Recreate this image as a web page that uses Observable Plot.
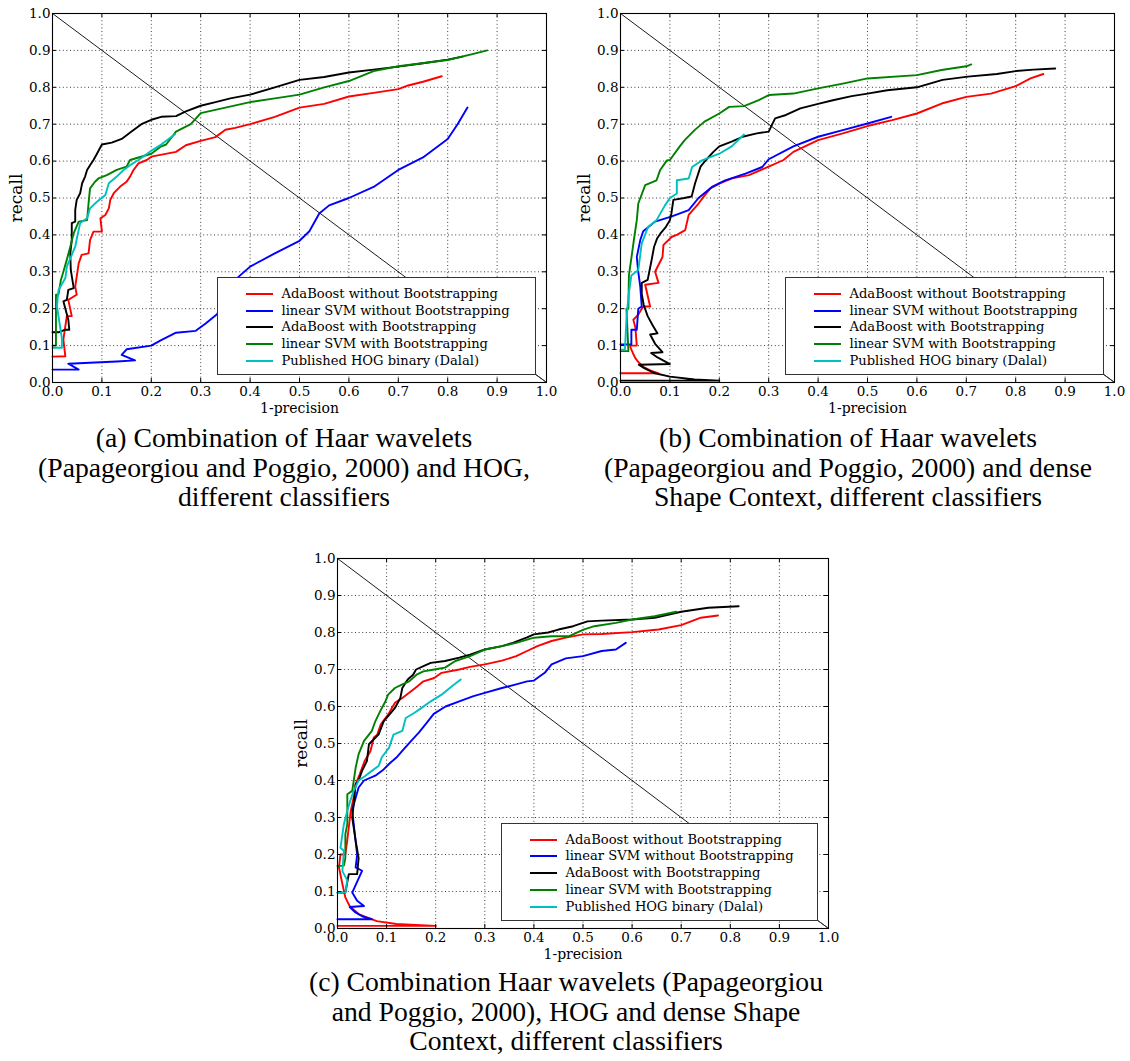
<!DOCTYPE html>
<html><head><meta charset="utf-8">
<script src="https://cdn.jsdelivr.net/npm/d3@7"></script>
<script src="https://cdn.jsdelivr.net/npm/@observablehq/plot@0.6"></script>
<style>
body{margin:0;background:#fff;}
#page{position:relative;width:1130px;height:1061px;overflow:hidden;background:#fff;}
.panel{position:absolute;}
.panel svg [aria-label="x-axis label"]{font-size:14px;}
.panel svg [aria-label="y-axis label"]{font-size:17px;}
.legend{position:absolute;background:#fff;border:1px solid #333;box-sizing:border-box;font-family:"DejaVu Serif",serif;font-size:13.1px;color:#000;}
.legend .row{position:absolute;left:0;height:16px;line-height:16px;white-space:nowrap;}
.legend .sw{position:absolute;left:28px;top:7px;width:27px;height:2px;}
.legend .tx{position:absolute;left:63px;top:0;}
.caption{position:absolute;white-space:nowrap;font-family:"Liberation Serif",serif;color:#000;transform:translate(-50%,-50%);}
</style></head><body><div id="page"></div>
<script>
// ---------- shared labels / styles ----------
const seriesNames = ["AdaBoost without Bootstrapping","linear SVM without Bootstrapping","AdaBoost with Bootstrapping","linear SVM with Bootstrapping","Published HOG binary (Dalal)"];
const seriesColors = ["#ff0000","#0000ff","#000000","#008000","#00bfbf"];
const tickValues = [0,0.1,0.2,0.3,0.4,0.5,0.6,0.7,0.8,0.9,1.0];
const diagX = [0,1];
const diagY = [1,0];
const xLabel = "1-precision";
const yLabel = "recall";

// ---------- panel (a): Haar + HOG ----------
const aAdaNoBoot = [[0,0.07],[0.026,0.071],[0.022,0.116],[0.029,0.18],[0.039,0.18],[0.032,0.224],[0.043,0.233],[0.049,0.238],[0.046,0.26],[0.053,0.323],[0.059,0.346],[0.073,0.35],[0.076,0.386],[0.083,0.409],[0.1,0.409],[0.097,0.445],[0.107,0.454],[0.114,0.472],[0.117,0.495],[0.124,0.513],[0.137,0.531],[0.15,0.544],[0.157,0.558],[0.164,0.576],[0.174,0.594],[0.191,0.603],[0.2,0.612],[0.25,0.625],[0.27,0.643],[0.3,0.655],[0.33,0.665],[0.35,0.685],[0.37,0.69],[0.4,0.70],[0.45,0.72],[0.5,0.745],[0.55,0.755],[0.6,0.775],[0.65,0.785],[0.7,0.795],[0.72,0.805],[0.75,0.815],[0.788,0.83]];
const aSvmNoBoot = [[0,0.035],[0.053,0.035],[0.032,0.051],[0.13,0.057],[0.167,0.06],[0.14,0.075],[0.15,0.09],[0.2,0.10],[0.22,0.115],[0.25,0.135],[0.29,0.14],[0.31,0.16],[0.333,0.185],[0.377,0.287],[0.4,0.314],[0.45,0.35],[0.5,0.384],[0.52,0.41],[0.54,0.458],[0.56,0.48],[0.6,0.50],[0.65,0.53],[0.7,0.576],[0.75,0.61],[0.8,0.66],[0.82,0.70],[0.84,0.745]];
const aAdaBoot = [[0,0.136],[0.012,0.136],[0.026,0.143],[0.034,0.143],[0.032,0.17],[0.022,0.22],[0.029,0.224],[0.032,0.251],[0.043,0.256],[0.037,0.305],[0.036,0.35],[0.039,0.386],[0.039,0.432],[0.046,0.436],[0.046,0.468],[0.049,0.495],[0.056,0.513],[0.06,0.54],[0.066,0.558],[0.07,0.576],[0.076,0.589],[0.083,0.603],[0.09,0.62],[0.1,0.645],[0.12,0.65],[0.14,0.66],[0.16,0.68],[0.18,0.70],[0.2,0.712],[0.22,0.72],[0.25,0.722],[0.27,0.735],[0.3,0.75],[0.33,0.76],[0.36,0.77],[0.4,0.78],[0.45,0.80],[0.5,0.82],[0.55,0.828],[0.6,0.84],[0.65,0.848],[0.7,0.856],[0.75,0.865],[0.8,0.875],[0.83,0.883]];
const aSvmBoot = [[0,0.1],[0.007,0.1],[0.007,0.238],[0.012,0.238],[0.017,0.278],[0.022,0.3],[0.029,0.333],[0.036,0.368],[0.043,0.405],[0.053,0.436],[0.07,0.44],[0.073,0.486],[0.076,0.526],[0.086,0.544],[0.093,0.553],[0.11,0.562],[0.13,0.576],[0.15,0.585],[0.157,0.603],[0.2,0.62],[0.22,0.64],[0.23,0.645],[0.25,0.68],[0.28,0.70],[0.3,0.73],[0.35,0.745],[0.4,0.76],[0.45,0.77],[0.5,0.78],[0.55,0.80],[0.6,0.817],[0.65,0.844],[0.7,0.857],[0.8,0.874],[0.85,0.89],[0.88,0.90]];
const aDalal = [[0,0.094],[0.019,0.094],[0.019,0.12],[0.009,0.206],[0.012,0.25],[0.026,0.283],[0.029,0.314],[0.039,0.346],[0.046,0.368],[0.05,0.395],[0.056,0.432],[0.07,0.445],[0.076,0.472],[0.09,0.49],[0.107,0.508],[0.114,0.54],[0.13,0.558],[0.144,0.576],[0.157,0.589],[0.174,0.603],[0.2,0.628],[0.22,0.645],[0.248,0.673]];

// ---------- panel (b): Haar + dense Shape Context ----------
const bAdaNoBoot = [[0,0.025],[0.077,0.025],[0.06,0.033],[0.047,0.042],[0.037,0.054],[0.03,0.066],[0.025,0.08],[0.02,0.095],[0.02,0.1],[0.033,0.1],[0.03,0.15],[0.026,0.17],[0.036,0.184],[0.046,0.206],[0.06,0.206],[0.05,0.265],[0.077,0.27],[0.07,0.3],[0.085,0.34],[0.087,0.373],[0.104,0.395],[0.114,0.4],[0.131,0.413],[0.138,0.454],[0.158,0.485],[0.168,0.503],[0.182,0.526],[0.202,0.54],[0.226,0.553],[0.26,0.562],[0.3,0.585],[0.33,0.603],[0.35,0.625],[0.4,0.657],[0.45,0.675],[0.5,0.695],[0.55,0.711],[0.6,0.729],[0.65,0.756],[0.7,0.774],[0.75,0.783],[0.8,0.803],[0.83,0.824],[0.856,0.836]];
const bSvmNoBoot = [[0,0.103],[0.022,0.103],[0.022,0.143],[0.033,0.143],[0.036,0.2],[0.043,0.206],[0.04,0.26],[0.036,0.3],[0.033,0.34],[0.04,0.386],[0.046,0.41],[0.07,0.436],[0.104,0.45],[0.138,0.467],[0.158,0.5],[0.185,0.53],[0.212,0.548],[0.253,0.566],[0.287,0.584],[0.3,0.605],[0.35,0.64],[0.4,0.666],[0.45,0.684],[0.5,0.702],[0.548,0.72]];
const bAdaBoot = [[0,0.005],[0.2,0.005],[0.15,0.008],[0.1,0.016],[0.07,0.025],[0.048,0.039],[0.037,0.048],[0.1,0.05],[0.075,0.068],[0.062,0.08],[0.085,0.082],[0.07,0.105],[0.06,0.13],[0.075,0.133],[0.065,0.155],[0.055,0.18],[0.047,0.21],[0.043,0.24],[0.043,0.27],[0.055,0.278],[0.063,0.332],[0.068,0.368],[0.074,0.39],[0.081,0.404],[0.092,0.422],[0.1,0.44],[0.103,0.458],[0.107,0.495],[0.129,0.5],[0.144,0.504],[0.151,0.54],[0.162,0.585],[0.173,0.603],[0.188,0.625],[0.2,0.64],[0.225,0.653],[0.247,0.666],[0.276,0.675],[0.3,0.68],[0.313,0.716],[0.335,0.725],[0.364,0.743],[0.4,0.755],[0.43,0.765],[0.468,0.776],[0.5,0.783],[0.54,0.792],[0.6,0.80],[0.652,0.82],[0.703,0.829],[0.762,0.836],[0.8,0.844],[0.836,0.848],[0.88,0.851]];
const bSvmBoot = [[0,0.085],[0.016,0.085],[0.012,0.2],[0.016,0.2],[0.017,0.29],[0.022,0.337],[0.028,0.395],[0.033,0.44],[0.036,0.485],[0.05,0.535],[0.073,0.548],[0.08,0.575],[0.094,0.602],[0.1,0.603],[0.12,0.64],[0.13,0.657],[0.15,0.684],[0.17,0.707],[0.2,0.729],[0.22,0.747],[0.25,0.749],[0.28,0.765],[0.3,0.779],[0.35,0.783],[0.4,0.797],[0.45,0.81],[0.5,0.824],[0.6,0.833],[0.65,0.847],[0.7,0.857],[0.71,0.862]];
const bDalal = [[0,0.089],[0.009,0.089],[0.012,0.17],[0.016,0.233],[0.022,0.29],[0.036,0.305],[0.043,0.377],[0.056,0.422],[0.073,0.44],[0.09,0.48],[0.1,0.5],[0.114,0.512],[0.114,0.548],[0.138,0.553],[0.145,0.584],[0.165,0.602],[0.2,0.62],[0.225,0.64],[0.25,0.672]];

// ---------- panel (c): Haar + HOG + dense Shape Context ----------
const cAdaNoBoot = [[0,0.007],[0.2,0.007],[0.12,0.012],[0.08,0.02],[0.043,0.039],[0.025,0.06],[0.016,0.084],[0.01,0.12],[0.003,0.165],[0.006,0.2],[0.016,0.2],[0.02,0.24],[0.023,0.273],[0.027,0.318],[0.033,0.354],[0.037,0.39],[0.045,0.416],[0.055,0.452],[0.067,0.479],[0.074,0.516],[0.081,0.524],[0.088,0.551],[0.103,0.578],[0.117,0.61],[0.132,0.623],[0.146,0.637],[0.161,0.653],[0.175,0.668],[0.197,0.677],[0.212,0.691],[0.248,0.70],[0.27,0.707],[0.3,0.714],[0.335,0.724],[0.364,0.736],[0.386,0.75],[0.407,0.763],[0.436,0.777],[0.465,0.786],[0.5,0.795],[0.538,0.796],[0.6,0.801],[0.654,0.808],[0.7,0.82],[0.74,0.84],[0.775,0.846]];
const cSvmNoBoot = [[0,0.025],[0.07,0.025],[0.05,0.033],[0.035,0.045],[0.025,0.058],[0.054,0.061],[0.04,0.075],[0.03,0.097],[0.05,0.156],[0.037,0.165],[0.04,0.2],[0.033,0.282],[0.03,0.32],[0.043,0.381],[0.054,0.4],[0.077,0.413],[0.094,0.43],[0.106,0.446],[0.12,0.462],[0.135,0.485],[0.152,0.51],[0.166,0.53],[0.18,0.553],[0.196,0.58],[0.22,0.6],[0.248,0.614],[0.277,0.628],[0.3,0.637],[0.335,0.65],[0.364,0.66],[0.386,0.668],[0.4,0.67],[0.422,0.691],[0.436,0.714],[0.465,0.73],[0.5,0.736],[0.538,0.75],[0.567,0.754],[0.587,0.772]];
const cAdaBoot = [[0,0.097],[0.016,0.097],[0.023,0.147],[0.04,0.147],[0.043,0.19],[0.037,0.237],[0.03,0.3],[0.033,0.336],[0.037,0.39],[0.043,0.4],[0.05,0.426],[0.06,0.453],[0.064,0.498],[0.084,0.525],[0.094,0.56],[0.107,0.58],[0.117,0.596],[0.128,0.623],[0.132,0.65],[0.143,0.673],[0.154,0.686],[0.16,0.70],[0.175,0.709],[0.19,0.718],[0.219,0.723],[0.248,0.732],[0.27,0.74],[0.3,0.754],[0.335,0.763],[0.357,0.772],[0.385,0.786],[0.4,0.795],[0.429,0.80],[0.45,0.808],[0.48,0.817],[0.509,0.83],[0.538,0.832],[0.6,0.835],[0.646,0.84],[0.7,0.856],[0.755,0.867],[0.817,0.871]];
const cSvmBoot = [[0,0.169],[0.013,0.17],[0.016,0.19],[0.016,0.255],[0.02,0.282],[0.02,0.363],[0.03,0.372],[0.037,0.435],[0.043,0.471],[0.054,0.507],[0.07,0.534],[0.077,0.56],[0.088,0.59],[0.098,0.615],[0.103,0.632],[0.117,0.65],[0.132,0.66],[0.146,0.668],[0.161,0.686],[0.175,0.695],[0.197,0.70],[0.219,0.705],[0.24,0.723],[0.27,0.736],[0.3,0.754],[0.335,0.763],[0.364,0.772],[0.4,0.786],[0.436,0.79],[0.472,0.79],[0.501,0.808],[0.523,0.817],[0.567,0.826],[0.6,0.835],[0.646,0.844],[0.69,0.856]];
const cDalal = [[0,0.097],[0.016,0.097],[0.02,0.13],[0.01,0.155],[0.013,0.21],[0.006,0.218],[0.013,0.282],[0.02,0.318],[0.026,0.345],[0.033,0.372],[0.043,0.4],[0.057,0.413],[0.07,0.426],[0.084,0.44],[0.09,0.462],[0.105,0.489],[0.114,0.524],[0.132,0.534],[0.139,0.569],[0.157,0.583],[0.172,0.597],[0.19,0.614],[0.212,0.632],[0.233,0.655],[0.251,0.673]];

// ---------- captions ----------
const captionA = ["(a) Combination of Haar wavelets","(Papageorgiou and Poggio, 2000) and HOG,","different classifiers"];
const captionB = ["(b) Combination of Haar wavelets","(Papageorgiou and Poggio, 2000) and dense","Shape Context, different classifiers"];
const captionC = ["(c) Combination Haar wavelets (Papageorgiou","and Poggio, 2000), HOG and dense Shape","Context, different classifiers"];

// ---------- layout ----------
const ML = 52, MT = 13, MR = 8, MB = 45;
const panels = [
  {series:[aAdaNoBoot,aSvmNoBoot,aAdaBoot,aSvmBoot,aDalal], left:0,   top:0,   W:494, H:369, caption:captionA, capX:284, capY:438},
  {series:[bAdaNoBoot,bSvmNoBoot,bAdaBoot,bSvmBoot,bDalal], left:568, top:0,   W:494, H:369, caption:captionB, capX:848, capY:438},
  {series:[cAdaNoBoot,cSvmNoBoot,cAdaBoot,cSvmBoot,cDalal], left:285, top:545, W:491, H:370, caption:captionC, capX:566, capY:982}
];
const capLineGap = 29.5;

const page = document.getElementById("page");
const fmt = d3.format(".1f");
const gridVals = tickValues.slice(1, -1);

// caption font size fitted by measurement
const cv = document.createElement("canvas").getContext("2d");
cv.font = '100px "Liberation Serif"';
const capSize = 100 * 492 / cv.measureText(captionA[1]).width;

const overlay = [];
for (const p of panels) {
  const svg = Plot.plot({
    width: ML + p.W + MR, height: MT + p.H + MB,
    marginLeft: ML, marginTop: MT, marginRight: MR, marginBottom: MB,
    x: {domain: [0, 1]},
    y: {domain: [0, 1]},
    style: {fontFamily: '"DejaVu Serif", serif', fontSize: "13.5px", color: "#000", background: "#fff", overflow: "visible"},
    marks: [
      Plot.gridX(gridVals, {stroke: "#000", strokeOpacity: 0.85, strokeWidth: 0.9, strokeDasharray: "1,2.6"}),
      Plot.gridY(gridVals, {stroke: "#000", strokeOpacity: 0.85, strokeWidth: 0.9, strokeDasharray: "1,2.6"}),
      Plot.line(diagX.map((x, i) => ({x, y: diagY[i]})), {x: "x", y: "y", stroke: "#000", strokeWidth: 0.9}),
      ...p.series.map((pts, i) => Plot.line(pts, {x: d => d[0], y: d => d[1], stroke: seriesColors[i], strokeWidth: 1.9})),
      Plot.ruleX(tickValues, {y1: 0, y2: 0.011, stroke: "#000"}),
      Plot.ruleX(tickValues, {y1: 1, y2: 0.989, stroke: "#000"}),
      Plot.ruleY(tickValues, {x1: 0, x2: 0.008, stroke: "#000"}),
      Plot.ruleY(tickValues, {x1: 1, x2: 0.992, stroke: "#000"}),
      Plot.frame({stroke: "#000", strokeWidth: 1.1}),
      Plot.axisX(tickValues, {tickSize: 0, tickPadding: 4, tickFormat: fmt, label: xLabel, labelAnchor: "center", labelOffset: 30, labelArrow: false}),
      Plot.axisY(tickValues, {tickSize: 0, tickPadding: 2, tickFormat: fmt, label: yLabel, labelAnchor: "center", labelOffset: 43, labelArrow: false})
    ]
  });
  const holder = document.createElement("div");
  holder.className = "panel";
  holder.style.left = p.left + "px";
  holder.style.top = p.top + "px";
  holder.appendChild(svg);
  page.appendChild(holder);

  // legend box inside the axes
  const x0 = p.left + ML, y0 = p.top + MT;
  const lg = document.createElement("div");
  lg.className = "legend";
  const lx = x0 + 0.335 * p.W, ly = y0 + 0.715 * p.H;
  const lw = 0.645 * p.W, lh = 0.266 * p.H;
  Object.assign(lg.style, {left: lx + "px", top: ly + "px", width: lw + "px", height: lh + "px"});
  seriesNames.forEach((name, i) => {
    const row = document.createElement("div");
    row.className = "row";
    row.style.top = (8 + i * 16.8) + "px";
    row.innerHTML = `<span class="sw" style="background:${seriesColors[i]}"></span><span class="tx">${name}</span>`;
    lg.appendChild(row);
  });
  page.appendChild(lg);
  overlay.push([lx + lw - 0.5, ly + lh - 0.5, x0 + p.W, y0 + p.H]);

  // caption
  p.caption.forEach((line, i) => {
    const c = document.createElement("div");
    c.className = "caption";
    c.style.fontSize = capSize + "px";
    c.style.left = p.capX + "px";
    c.style.top = (p.capY + i * capLineGap) + "px";
    c.textContent = line;
    page.appendChild(c);
  });
}

// bevel lines joining the legend corner to the axes corner
const ov = d3.select(page).append("svg")
  .attr("width", 1130).attr("height", 1061)
  .style("position", "absolute").style("left", 0).style("top", 0).style("pointer-events", "none");
ov.selectAll("line").data(overlay).join("line")
  .attr("x1", d => d[0]).attr("y1", d => d[1]).attr("x2", d => d[2]).attr("y2", d => d[3])
  .attr("stroke", "#333").attr("stroke-width", 1);
</script>
</body></html>
